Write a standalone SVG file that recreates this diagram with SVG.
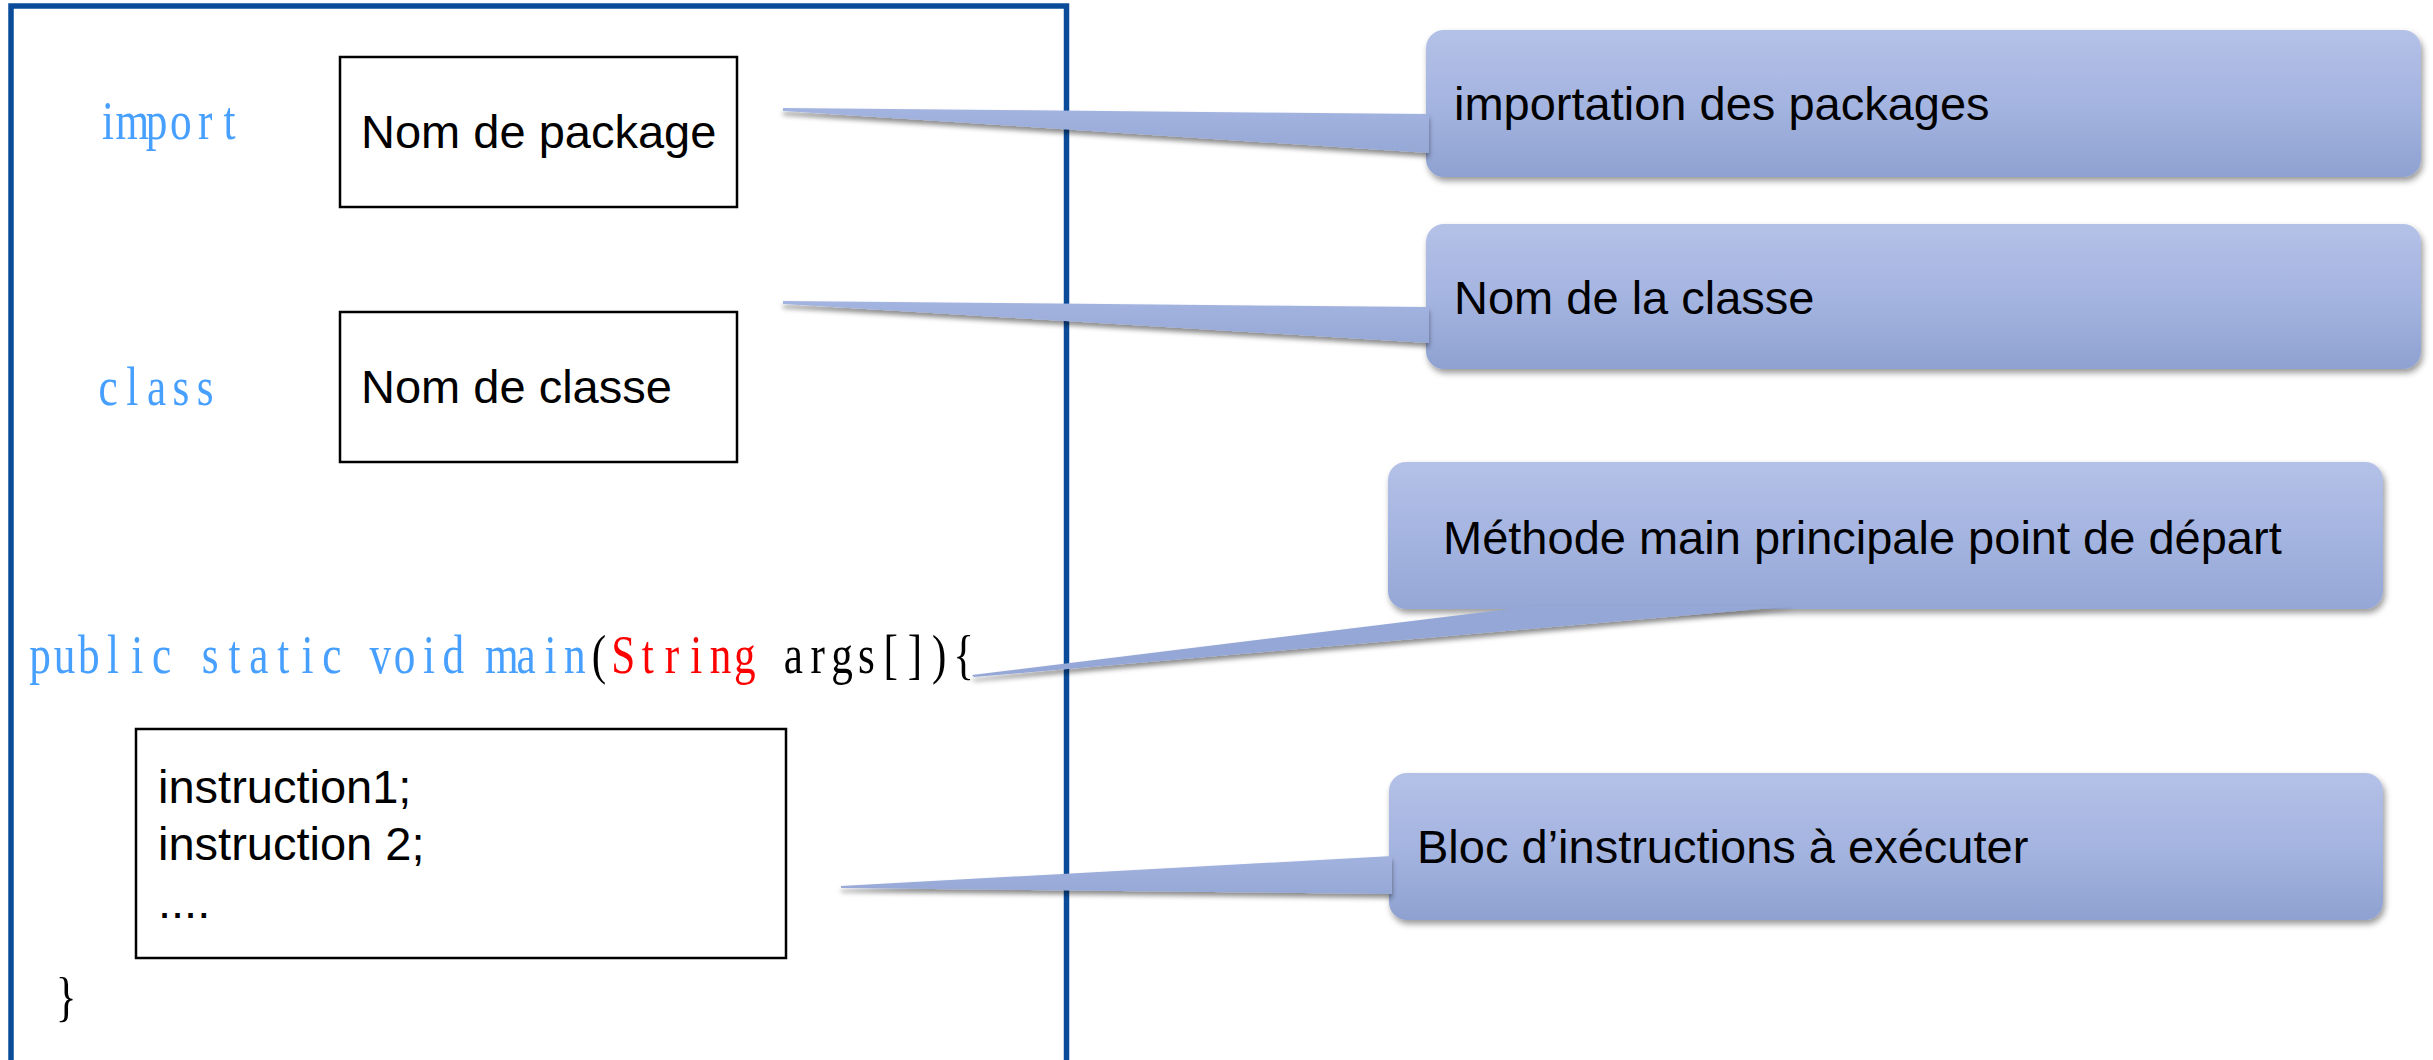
<svg xmlns="http://www.w3.org/2000/svg" width="2433" height="1060" viewBox="0 0 2433 1060">
  <style>
    .code { font-family: "Liberation Serif", "DejaVu Serif", serif; font-size: 54px; text-anchor: middle; }
    .kw { fill: #47A0FF; }
    .red { fill: #FF0000; }
    .blk { fill: #000000; }
    .lbl { font-family: "Liberation Sans", Arial, sans-serif; font-size: 47px; fill: #000000; }
    .box { fill: #FFFFFF; stroke: #000000; stroke-width: 2.5; }
    .frame { fill: none; stroke: #0A4C9A; stroke-width: 5.5; }
    .callout { filter: url(#shadow); }
    .wedge { filter: url(#wshadow); }
  </style>
  <defs>
    <filter id="shadow" x="-5%" y="-20%" width="110%" height="150%">
      <feDropShadow dx="2" dy="4" stdDeviation="3" flood-color="#000000" flood-opacity="0.4"/>
    </filter>
    <filter id="wshadow" x="-5%" y="-50%" width="110%" height="250%">
      <feDropShadow dx="0" dy="4" stdDeviation="2.5" flood-color="#000000" flood-opacity="0.45"/>
    </filter>
    <linearGradient id="g1" gradientUnits="userSpaceOnUse" x1="0" y1="30" x2="0" y2="177">
      <stop offset="0" stop-color="#B4C1E7"/>
      <stop offset="0.55" stop-color="#A3B3E0"/>
      <stop offset="1" stop-color="#8EA1D0"/>
    </linearGradient>
    <linearGradient id="g2" gradientUnits="userSpaceOnUse" x1="0" y1="224" x2="0" y2="369">
      <stop offset="0" stop-color="#B4C1E7"/>
      <stop offset="0.55" stop-color="#A3B3E0"/>
      <stop offset="1" stop-color="#8EA1D0"/>
    </linearGradient>
    <linearGradient id="g3" gradientUnits="userSpaceOnUse" x1="0" y1="462" x2="0" y2="609">
      <stop offset="0" stop-color="#B4C1E7"/>
      <stop offset="0.55" stop-color="#A3B3E0"/>
      <stop offset="1" stop-color="#95A7D6"/>
    </linearGradient>
    <linearGradient id="g4" gradientUnits="userSpaceOnUse" x1="0" y1="773" x2="0" y2="920">
      <stop offset="0" stop-color="#B4C1E7"/>
      <stop offset="0.55" stop-color="#A3B3E0"/>
      <stop offset="1" stop-color="#8EA1D0"/>
    </linearGradient>
  </defs>

  <rect x="0" y="0" width="2433" height="1060" fill="#FFFFFF"/>

  <g id="code-frame">
    <rect class="frame" x="11" y="6" width="1055.5" height="1090"/>
  </g>

  <g id="kw-import">
    <text class="code kw" transform="scale(0.8,1)" x="135 165.38 195.75 226.13 256.5 286.88" y="139">import</text>
  </g>
  <g id="box-package">
    <rect class="box" x="340" y="57" width="397" height="150"/>
    <text class="lbl" x="361" y="148">Nom de package</text>
  </g>

  <g id="kw-class">
    <text class="code kw" transform="scale(0.8,1)" x="135 165.38 195.75 226.13 256.5" y="405">class</text>
  </g>
  <g id="box-classe">
    <rect class="box" x="340" y="312" width="397" height="150"/>
    <text class="lbl" x="361" y="403">Nom de classe</text>
  </g>

  <g id="main-signature">
    <text class="code" transform="scale(0.8,1)" y="673" x="50.19 80.56 110.94 141.31 171.69 202.06 232.44 262.81 293.19 323.56 353.94 384.31 414.69 445.06 475.44 505.81 536.19 566.56 596.94 627.31 657.69 688.06 718.44 748.81 779.19 809.56 839.94 870.31 900.69 931.06 961.44 991.81 1022.19 1052.56 1082.94 1113.31 1143.69 1174.06 1204.44"><tspan class="kw">public static void main</tspan><tspan class="blk">(</tspan><tspan class="red">String</tspan><tspan class="blk"> args[]){</tspan></text>
  </g>

  <g id="box-instructions">
    <rect class="box" x="136" y="729" width="650" height="229"/>
    <text class="lbl" x="158" y="803">instruction1;</text>
    <text class="lbl" x="158" y="860">instruction 2;</text>
    <text class="lbl" x="158" y="918">....</text>
  </g>

  <g id="closing-brace">
    <text class="code blk" transform="scale(0.8,1)" x="82.5" y="1015">}</text>
  </g>

  <g id="callout-import">
    <rect class="callout" x="1426" y="30" width="995" height="147" rx="18" fill="url(#g1)"/>
    <text class="lbl" x="1454" y="120">importation des packages</text>
  </g>

  <g id="callout-classe">
    <rect class="callout" x="1426" y="224" width="995" height="145" rx="18" fill="url(#g2)"/>
    <text class="lbl" x="1454" y="314">Nom de la classe</text>
  </g>

  <g id="callout-main">
    <rect class="callout" x="1388" y="462" width="995" height="147" rx="18" fill="url(#g3)"/>
    <text class="lbl" x="1443" y="554">Méthode main principale point de départ</text>
  </g>

  <g id="callout-bloc">
    <rect class="callout" x="1389" y="773" width="994" height="147" rx="18" fill="url(#g4)"/>
    <text class="lbl" x="1417" y="863">Bloc d’instructions à exécuter</text>
  </g>

  <g id="connectors">
    <path class="wedge" d="M783,108 L1429,114 L1429,153 L783,111 Z" fill="url(#g1)"/>
    <path class="wedge" d="M783,301 L1429,307 L1429,343 L783,304 Z" fill="url(#g2)"/>
    <path class="wedge" d="M972,675 L1534,606 L1796,606 L974,677 Z" fill="url(#g3)"/>
    <path class="wedge" d="M841,886 L1392,856 L1392,894 L841,888 Z" fill="url(#g4)"/>
  </g>
</svg>
